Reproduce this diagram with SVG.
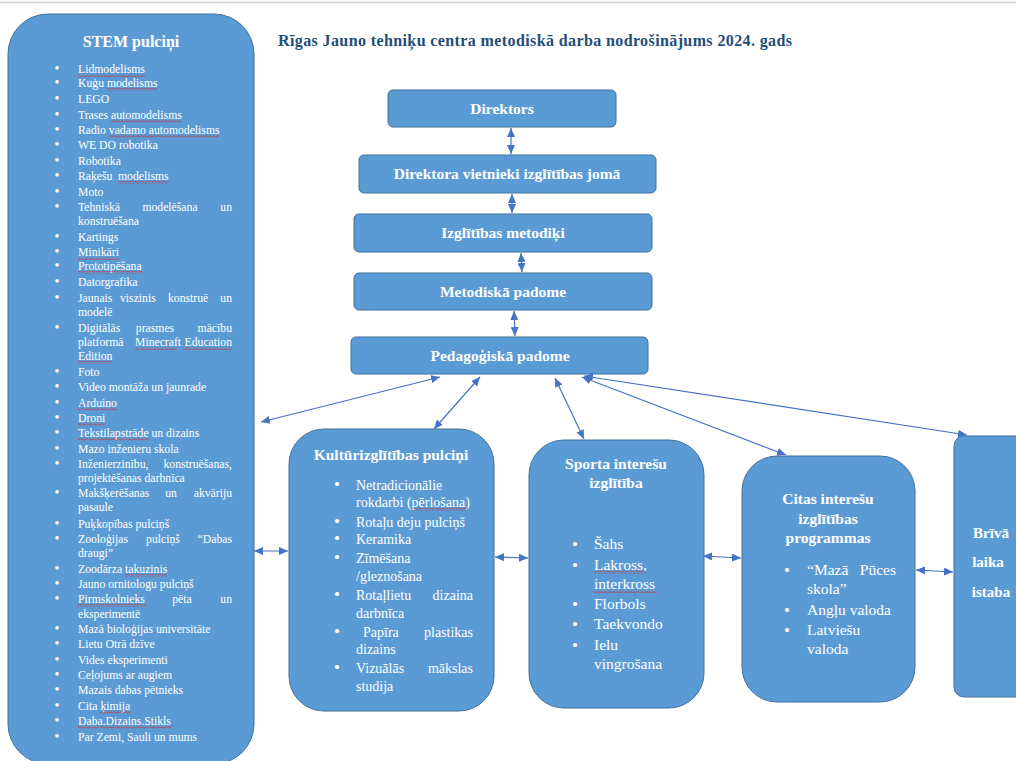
<svg xmlns="http://www.w3.org/2000/svg" width="1016" height="761" viewBox="0 0 1016 761">
<defs>
<style>
.box{fill:#5B9BD5;stroke:#41719C;stroke-width:1}
.t{font-family:"Liberation Serif","Times New Roman",serif;fill:#fff}
.b{font-weight:bold}
.s12{font-size:11.7px}
.s14{font-size:14px}
.s15{font-size:15.5px}
.c{text-anchor:middle}
.e{text-anchor:end}
.bl1{font-size:14px}
.bl2{font-size:17px}
.con{stroke:#4472C4;stroke-width:1.2;fill:none;marker-start:url(#ah);marker-end:url(#ah)}
.sq{fill:url(#sq)}
</style>
<marker id="ah" markerUnits="userSpaceOnUse" markerWidth="9" markerHeight="8" viewBox="0 0 9 8" refX="9" refY="4" orient="auto-start-reverse"><path d="M0,0 L9,4 L0,8 z" fill="#4472C4"/></marker>
<pattern id="sq" width="4" height="3" patternUnits="userSpaceOnUse"><path d="M0,2.5 L2,0.5 L4,2.5" fill="none" stroke="#E02020" stroke-width="0.8"/></pattern>
</defs>
<rect x="0" y="0" width="1016" height="761" fill="#fff"/>
<line x1="0" y1="2.5" x2="1016" y2="2.5" stroke="#D0D0D0" stroke-width="1.5"/>
<text id="title" x="278" y="46" font-family="Liberation Serif, Times New Roman, serif" font-size="16" font-weight="bold" fill="#1F4E79" textLength="514">Rīgas Jauno tehniķu centra metodiskā darba nodrošinājums 2024. gads</text>

<g id="stem">
<rect class="box" x="8" y="14" width="246" height="750" rx="40"/>
<text class="t b c" x="131" y="47" font-size="16">STEM pulciņi</text>
<g class="t bl1 c">
<text x="57" y="73">•</text><text x="57" y="87">•</text><text x="57" y="103">•</text><text x="57" y="119">•</text><text x="57" y="134">•</text><text x="57" y="149">•</text><text x="57" y="165">•</text><text x="57" y="180">•</text><text x="57" y="196">•</text><text x="57" y="211">•</text><text x="57" y="241">•</text><text x="57" y="256">•</text><text x="57" y="270">•</text><text x="57" y="286">•</text><text x="57" y="302">•</text><text x="57" y="332">•</text><text x="57" y="376">•</text><text x="57" y="391">•</text><text x="57" y="407">•</text><text x="57" y="422">•</text><text x="57" y="437">•</text><text x="57" y="453">•</text><text x="57" y="468">•</text><text x="57" y="497">•</text><text x="57" y="528">•</text><text x="57" y="543">•</text><text x="57" y="573">•</text><text x="57" y="588">•</text><text x="57" y="603">•</text><text x="57" y="633">•</text><text x="57" y="648">•</text><text x="57" y="664">•</text><text x="57" y="679">•</text><text x="57" y="694">•</text><text x="57" y="710">•</text><text x="57" y="725">•</text><text x="57" y="741">•</text>
</g>
<g class="t s12">
<text x="78" y="73">Lidmodelisms</text>
<text x="78" y="87">Kuģu modelisms</text>
<text x="78" y="103">LEGO</text>
<text x="78" y="119">Trases automodelisms</text>
<text x="78" y="134">Radio vadamo automodelisms</text>
<text x="78" y="149">WE DO robotika</text>
<text x="78" y="165">Robotika</text>
<text x="78" y="180">Raķešu</text><text x="118" y="180">modelisms</text>
<text x="78" y="196">Moto</text>
<text x="78" y="211">Tehniskā</text><text class="c" x="170" y="211">modelēšana</text><text class="e" x="232" y="211">un</text>
<text x="78" y="225">konstruēšana</text>
<text x="78" y="241">Kartings</text>
<text x="78" y="256">Minikāri</text>
<text x="78" y="270">Prototipēšana</text>
<text x="78" y="286">Datorgrafika</text>
<text x="78" y="302">Jaunais</text><text x="120" y="302">viszinis</text><text x="168" y="302">konstruē</text><text class="e" x="232" y="302">un</text>
<text x="78" y="316">modelē</text>
<text x="78" y="332">Digitālās</text><text class="c" x="155" y="332">prasmes</text><text class="e" x="232" y="332">mācību</text>
<text x="78" y="346">platformā</text><text x="135" y="346">Minecraft</text><text class="e" x="232" y="346">Education</text>
<text x="78" y="360">Edition</text>
<text x="78" y="376">Foto</text>
<text x="78" y="391">Video montāža un jaunrade</text>
<text x="78" y="407">Arduino</text>
<text x="78" y="422">Droni</text>
<text x="78" y="437">Tekstilapstrāde un dizains</text>
<text x="78" y="453">Mazo inženieru skola</text>
<text x="78" y="468">Inženierzinību,</text><text class="e" x="232" y="468">konstruēšanas,</text>
<text x="78" y="482">projektēšanas darbnīca</text>
<text x="78" y="497">Makšķerēšanas</text><text class="c" x="171" y="497">un</text><text class="e" x="232" y="497">akvāriju</text>
<text x="78" y="511">pasaule</text>
<text x="78" y="528">Puķkopības pulciņš</text>
<text x="78" y="543">Zooloģijas</text><text class="c" x="163" y="543">pulciņš</text><text class="e" x="232" y="543">“Dabas</text>
<text x="78" y="557">draugi”</text>
<text x="78" y="573">Zoodārza takuzinis</text>
<text x="78" y="588">Jauno ornitologu pulciņš</text>
<text x="78" y="603">Pirmskolnieks</text><text class="c" x="182" y="603">pēta</text><text class="e" x="232" y="603">un</text>
<text x="78" y="618">eksperimentē</text>
<text x="78" y="633">Mazā bioloģijas universitāte</text>
<text x="78" y="648">Lietu Otrā dzīve</text>
<text x="78" y="664">Vides eksperimenti</text>
<text x="78" y="679">Ceļojums ar augiem</text>
<text x="78" y="694">Mazais dabas pētnieks</text>
<text x="78" y="710">Cita ķimija</text>
<text x="78" y="725">Daba.Dizains.Stikls</text>
<text x="78" y="741">Par Zemi, Sauli un mums</text>
</g>
<g class="sq">
<rect x="78" y="74" width="67" height="3"/>
<rect x="107" y="88" width="50" height="3"/>
<rect x="111" y="120" width="71" height="3"/>
<rect x="109" y="135" width="110" height="3"/>
<rect x="118" y="181" width="50" height="3"/>
<rect x="78" y="257" width="41" height="3"/>
<rect x="78" y="271" width="65" height="3"/>
<rect x="135" y="347" width="42" height="3"/>
<rect x="183" y="347" width="49" height="3"/>
<rect x="78" y="361" width="34" height="3"/>
<rect x="78" y="408" width="39" height="3"/>
<rect x="78" y="423" width="27" height="3"/>
<rect x="78" y="438" width="72" height="3"/>
<rect x="125" y="574" width="42" height="3"/>
<rect x="78" y="604" width="69" height="3"/>
<rect x="99" y="711" width="32" height="3"/>
<rect x="78" y="726" width="93" height="3"/>
</g>
</g>

<g id="direktors">
<rect class="box" x="388" y="90" width="228" height="37" rx="5"/>
<text class="t b s15 c" x="502" y="113.5">Direktors</text>
</g>
<g id="vietnieki">
<rect class="box" x="359" y="155" width="297" height="38" rx="5"/>
<text class="t b s15 c" x="507" y="179">Direktora vietnieki izglītības jomā</text>
</g>
<g id="metodiki">
<rect class="box" x="354" y="214" width="298" height="38" rx="5"/>
<text class="t b s15 c" x="503" y="238">Izglītības metodiķi</text>
</g>
<g id="metodiska">
<rect class="box" x="354" y="273" width="298" height="37" rx="5"/>
<text class="t b s15 c" x="503" y="296.5">Metodiskā padome</text>
</g>
<g id="pedagogiska">
<rect class="box" x="351" y="337" width="297" height="37" rx="5"/>
<text class="t b s15 c" x="500" y="360.5">Pedagoģiskā padome</text>
</g>

<g id="kultura">
<rect class="box" x="289" y="429" width="205" height="282" rx="35"/>
<text class="t b s15 c" x="391" y="460">Kultūrizglītības pulciņi</text>
<g class="t bl2 c">
<text x="337" y="490">•</text><text x="337" y="527">•</text><text x="337" y="544">•</text><text x="337" y="563">•</text><text x="337" y="600">•</text><text x="337" y="637">•</text><text x="337" y="673">•</text>
</g>
<g class="t s14">
<text x="356" y="489.5">Netradicionālie</text>
<text x="356" y="506.5">rokdarbi (pērlošana)</text>
<text x="356" y="526.5">Rotaļu deju pulciņš</text>
<text x="356" y="543.5">Keramika</text>
<text x="356" y="562.5">Zīmēšana</text>
<text x="356" y="580.5">/gleznošana</text>
<text x="356" y="599.5">Rotaļlietu</text><text class="e" x="473" y="599.5">dizaina</text>
<text x="356" y="617.5">darbnīca</text>
<text x="363" y="636.5">Papīra</text><text class="e" x="473" y="636.5">plastikas</text>
<text x="356" y="653.5">dizains</text>
<text x="356" y="672.5">Vizuālās</text><text class="e" x="473" y="672.5">mākslas</text>
<text x="356" y="690.5">studija</text>
</g>
<rect class="sq" x="412" y="508" width="56" height="3"/>
</g>

<g id="sports">
<rect class="box" x="529" y="440" width="175" height="268" rx="35"/>
<text class="t b s15 c" x="616" y="469">Sporta interešu</text>
<text class="t b s15 c" x="616" y="488">izglītība</text>
<g class="t bl2 c">
<text x="575" y="550">•</text><text x="575" y="571">•</text><text x="575" y="610">•</text><text x="575" y="630">•</text><text x="575" y="651">•</text>
</g>
<g class="t s15">
<text x="594" y="549">Šahs</text>
<text x="594" y="570">Lakross,</text>
<text x="594" y="589">interkross</text>
<text x="594" y="609">Florbols</text>
<text x="594" y="629">Taekvondo</text>
<text x="594" y="650">Ielu</text>
<text x="594" y="669">vingrošana</text>
</g>
<rect class="sq" x="594" y="571" width="52" height="3"/>
<rect class="sq" x="594" y="590" width="63" height="3"/>
</g>

<g id="citas">
<rect class="box" x="742" y="456" width="173" height="246" rx="35"/>
<text class="t b s15 c" x="828" y="504">Citas interešu</text>
<text class="t b s15 c" x="828" y="524">izglītības</text>
<text class="t b s15 c" x="828" y="543">programmas</text>
<g class="t bl2 c">
<text x="787" y="576">•</text><text x="787" y="616">•</text><text x="787" y="636">•</text>
</g>
<g class="t s15">
<text x="807" y="575">“Mazā</text><text class="e" x="896" y="575">Pūces</text>
<text x="807" y="594">skola”</text>
<text x="807" y="615">Angļu valoda</text>
<text x="807" y="635">Latviešu</text>
<text x="807" y="654">valoda</text>
</g>
</g>

<g id="briva">
<rect class="box" x="954" y="436" width="80" height="261" rx="10"/>
<text class="t b c" font-size="15" x="991" y="538">Brīvā</text>
<text class="t b c" font-size="15" x="988" y="567">laika</text>
<text class="t b c" font-size="15" x="991" y="597">istaba</text>
</g>

<g id="connectors">
<path class="con" d="M511,128 L511,154"/>
<path class="con" d="M512,194 L512,213"/>
<path class="con" d="M521,253 L522,272"/>
<path class="con" d="M514,311 L515,336"/>
<path class="con" d="M440,377 L261,422"/>
<path class="con" d="M480,377 L434,429"/>
<path class="con" d="M555,378 L584,439"/>
<path class="con" d="M582,377 L786,455"/>
<path class="con" d="M584,376 L967,435"/>
<path class="con" d="M254,551 L288,551"/>
<path class="con" d="M495,557 L528,558"/>
<path class="con" d="M703,556 L741,558"/>
<path class="con" d="M916,570 L953,572"/>
</g>
</svg>
